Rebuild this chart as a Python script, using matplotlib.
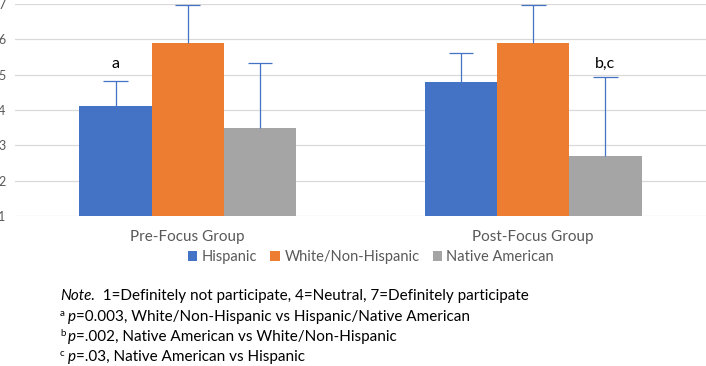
import numpy as np
import matplotlib.pyplot as plt

plt.rcParams['font.family'] = ['Lato', 'DejaVu Sans']

groups = ['Pre-Focus Group', 'Post-Focus Group']
series = ['Hispanic', 'White/Non-Hispanic', 'Native American']
colors = ['#4472C4', '#ED7D31', '#A5A5A5']
means = [[4.1, 4.8], [5.9, 5.9], [3.5, 2.7]]
err_top = [[4.82, 5.6], [6.97, 6.97], [5.33, 4.93]]
marks = [('a', 0, 0), ('b,c', 2, 1)]
# each note line: (superscript, italic lead, rest)
notes = [('', 'Note.', '  1=Definitely not participate, 4=Neutral, 7=Definitely participate'),
         ('a', 'p', '=0.003, White/Non-Hispanic vs Hispanic/Native American'),
         ('b', 'p', '=.002, Native American vs White/Non-Hispanic'),
         ('c', 'p', '=.03, Native American vs Hispanic')]

fig = plt.figure(figsize=(7.06, 3.66), dpi=100)
ax = fig.add_axes([15/706, 1 - 216/366, 691/706, 212/366])

x = np.arange(len(groups))
w = 0.209
for i, s in enumerate(series):
    xs = x + (i - 1) * w
    ax.bar(xs, np.array(means[i]) - 1, w, bottom=1, color=colors[i], label=s, zorder=2)
    ax.vlines(xs, means[i], err_top[i], color='#4472C4', lw=0.9, zorder=3)
    ax.hlines(err_top[i], xs - 0.036, xs + 0.036, color='#4472C4', lw=0.9, zorder=3)

for txt, si, gi in marks:
    ax.text(x[gi] + (si - 1) * w, 5.3, txt, ha='center', va='center', fontsize=11.5, color='black')

ax.set_xlim(-0.5, 1.5)
ax.set_ylim(1, 7)
ax.set_yticks(range(1, 8))
ax.yaxis.grid(True, color='#D9D9D9', lw=0.9, zorder=0)
ax.set_xticks(x)
ax.set_xticklabels(groups)
ax.tick_params(axis='x', length=0, pad=10, labelsize=11, labelcolor='#595959')
ax.tick_params(axis='y', length=0, pad=7, labelsize=9, labelcolor='#595959')
for sp in ax.spines.values():
    sp.set_visible(False)

fig.legend(loc='center', bbox_to_anchor=(371/706, 1 - 257/366), ncol=3, frameon=False,
           fontsize=10.5, handlelength=0.65, handleheight=0.65, handletextpad=0.3,
           columnspacing=0.9, labelcolor='#595959')

# notes drawn piece by piece so that spacing stays even
r = fig.canvas.get_renderer()
W, H = fig.bbox.width, fig.bbox.height
for k, (sup, lead, rest) in enumerate(notes):
    px = 60.0
    base = 300 + 20.5 * k
    if sup:
        t = fig.text(px / W, 1 - (base - 5) / H, sup, fontsize=7, va='baseline')
        px += t.get_window_extent(r).width + 3
    t = fig.text(px / W, 1 - base / H, lead, fontsize=11, style='italic', va='baseline')
    px += t.get_window_extent(r).width
    fig.text(px / W, 1 - base / H, rest, fontsize=11, va='baseline')

fig.savefig('out.png', dpi=100)
